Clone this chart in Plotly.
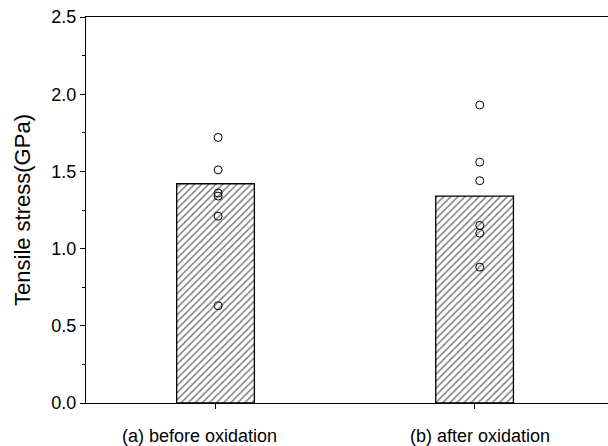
import plotly.graph_objects as go

categories = ["(a) before oxidation", "(b) after oxidation"]
mean_stress = [1.42, 1.34]
samples_before = [1.72, 1.51, 1.36, 1.34, 1.21, 0.63]
samples_after = [1.93, 1.56, 1.44, 1.15, 1.10, 0.88]
y_ticks = [0.0, 0.5, 1.0, 1.5, 2.0, 2.5]
label_x = [-0.06, 1.02]

fig = go.Figure()

fig.add_trace(go.Bar(
    x=[0, 1],
    y=mean_stress,
    width=0.30,
    marker=dict(
        color="white",
        line=dict(color="black", width=1.3),
        pattern=dict(shape="/", size=5, solidity=0.3, fgcolor="black", bgcolor="white"),
    ),
    showlegend=False,
))

for pos, vals in enumerate([samples_before, samples_after]):
    fig.add_trace(go.Scatter(
        x=[pos + 0.01 + 0.01 * pos] * len(vals),
        y=vals,
        mode="markers",
        marker=dict(symbol="circle-open", size=8, color="black", line=dict(width=1)),
        showlegend=False,
    ))

for lx, text in zip(label_x, categories):
    fig.add_annotation(
        x=lx, y=0, xref="x", yref="paper",
        text=text, showarrow=False,
        yanchor="middle", yshift=-33,
        font=dict(size=18),
    )

fig.update_layout(
    width=608, height=446,
    margin=dict(l=86, r=0, t=17, b=43),
    plot_bgcolor="white", paper_bgcolor="white",
    font=dict(family="Liberation Sans, Arial, sans-serif", color="black", size=18),
    xaxis=dict(
        range=[-0.5, 1.515],
        tickmode="array", tickvals=[0, 1], ticktext=["", ""],
        ticks="outside", ticklen=5, tickwidth=1, tickcolor="black",
        showline=True, linecolor="black", linewidth=1.3, mirror=True,
        showgrid=False, zeroline=False,
    ),
    yaxis=dict(
        range=[0, 2.5],
        tickmode="array", tickvals=y_ticks,
        ticktext=[f"{v:.1f}" for v in y_ticks],
        ticks="outside", ticklen=5, tickwidth=1, tickcolor="black",
        minor=dict(dtick=0.25, ticks="outside", ticklen=3, tickcolor="black"),
        showline=True, linecolor="black", linewidth=1.3, mirror=True,
        showgrid=False, zeroline=False,
        tickfont=dict(size=18),
        title=dict(text="Tensile stress(GPa)", font=dict(size=22), standoff=14),
    ),
)

fig.write_html("out.html")
